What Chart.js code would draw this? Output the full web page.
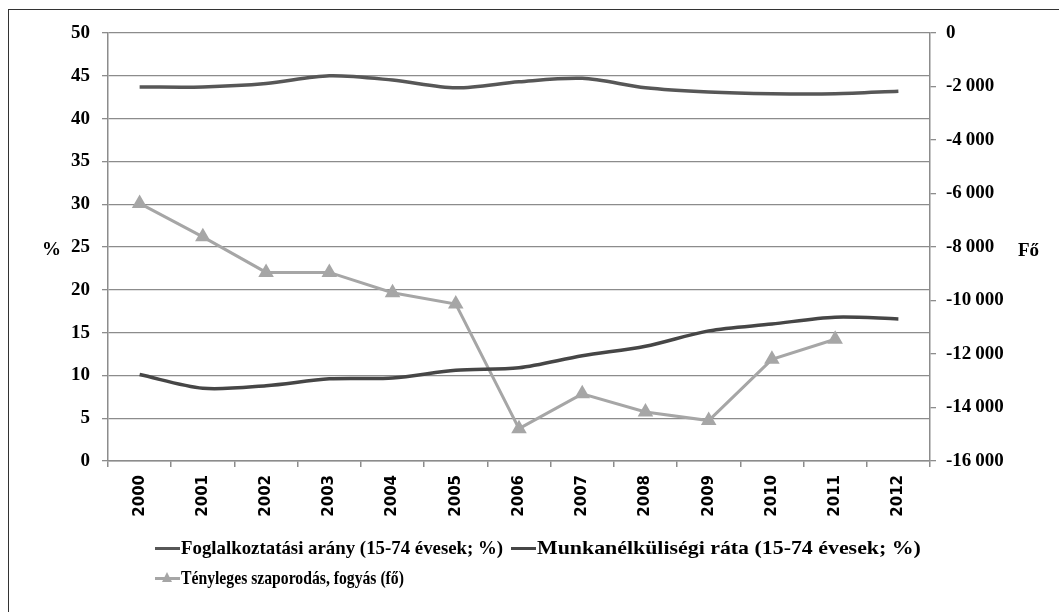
<!DOCTYPE html>
<html>
<head>
<meta charset="utf-8">
<script src="https://cdn.jsdelivr.net/npm/chart.js@4.4.1/dist/chart.umd.min.js"></script>
<style>
    html, body { margin: 0; padding: 0; background: #fff; }
    #wrap { position: relative; width: 1059px; height: 612px; overflow: hidden; }
    #frame { position: absolute; left: 8px; top: 9px; width: 1200px; height: 800px; border-left: 1.5px solid #333; border-top: 1.5px solid #333; }
    canvas { position: absolute; left: 0; top: 0; }
    .axis-title { position: absolute; font: bold 19px "Liberation Serif", "Times New Roman", serif; color: #000; }
    .legend-item { position: absolute; display: flex; align-items: center; font: bold 19px "Liberation Serif", "Times New Roman", serif; color: #000; white-space: nowrap; }
    .legend-item span { display: inline-block; transform-origin: left center; }
    .swatch { position: relative; width: 25px; height: 3px; margin-right: 1px; flex: none; }
    .swatch .tri { position: absolute; left: 7px; top: -5px; width: 0; height: 0; border-left: 5px solid transparent; border-right: 5px solid transparent; border-bottom: 10px solid #a6a6a6; }
</style>
</head>
<body>
<div id="wrap">
    <div id="frame"></div>
    <canvas id="chart" width="1059" height="612"></canvas>
    <span class="axis-title" style="left:42px; top:238px;">%</span>
    <span class="axis-title" style="left:1018px; top:239px;">Fő</span>
    <div id="legend"></div>
</div>
<script>
    // ─── ADATOK ──────────────────────────────────────────────────────────────
    const years = ['2000','2001','2002','2003','2004','2005','2006','2007','2008','2009','2010','2011','2012'];
    const employment   = [43.7, 43.7, 44.1, 45.0, 44.5, 43.6, 44.3, 44.7, 43.6, 43.1, 42.9, 42.9, 43.2];
    const unemployment = [10.1, 8.5, 8.8, 9.6, 9.7, 10.6, 10.9, 12.3, 13.4, 15.2, 16.0, 16.8, 16.6];
    const population   = [-6370, -7620, -8950, -8950, -9710, -10130, -14790, -13490, -14170, -14490, -12200, -11450, null];
    const seriesNames  = ['Foglalkoztatási arány (15-74 évesek; %)', 'Munkanélküliségi ráta (15-74 évesek; %)', 'Tényleges szaporodás, fogyás (fő)'];
    const leftTicks  = [0, 5, 10, 15, 20, 25, 30, 35, 40, 45, 50];
    const rightTicks = [-16000, -14000, -12000, -10000, -8000, -6000, -4000, -2000, 0];

    const colors = { emp: '#575757', unemp: '#464646', pop: '#a6a6a6', grid: '#8c8c8c' };
    const tickFont = { family: '"Liberation Serif", "Times New Roman", serif', size: 19, weight: 'bold' };

    function fmtFo(v) {
        if (v === 0) return '0';
        const s = String(Math.abs(v));
        return '-' + s.slice(0, s.length - 3) + '\u2009' + s.slice(-3);
    }

    const ctx = document.getElementById('chart').getContext('2d');
    new Chart(ctx, {
        type: 'line',
        data: {
            labels: years,
            datasets: [
                { label: seriesNames[0], data: employment, yAxisID: 'y', borderColor: colors.emp, borderWidth: 3.5, pointRadius: 0, tension: 0.3 },
                { label: seriesNames[1], data: unemployment, yAxisID: 'y', borderColor: colors.unemp, borderWidth: 3.5, pointRadius: 0, tension: 0.3 },
                { label: seriesNames[2], data: population, yAxisID: 'y1', borderColor: colors.pop, backgroundColor: colors.pop, borderWidth: 3,
                  pointStyle: 'triangle', pointRadius: 6, pointBackgroundColor: colors.pop, pointBorderColor: colors.pop, tension: 0, spanGaps: false }
            ]
        },
        options: {
            responsive: false,
            devicePixelRatio: 1,
            animation: false,
            layout: { padding: { left: 0, right: 0, top: 33, bottom: 0 } },
            plugins: { legend: { display: false }, tooltip: { enabled: false } },
            scales: {
                x: {
                    offset: true,
                    afterFit: s => { s.height = 151; },
                    border: { color: colors.grid, width: 1.5 },
                    grid: { offset: true, drawOnChartArea: false, drawTicks: true, tickLength: 6, color: colors.grid, lineWidth: 1.5 },
                    ticks: { color: '#000', minRotation: 90, maxRotation: 90, padding: 8, autoSkip: false,
                             font: { family: '"DejaVu Sans", Verdana, sans-serif', size: 15, weight: 'bold' } }
                },
                y: {
                    position: 'left',
                    min: 0, max: 50,
                    afterFit: s => { s.width = 108; },
                    afterBuildTicks: s => { s.ticks = leftTicks.map(v => ({ value: v })); },
                    border: { color: colors.grid, width: 1.5 },
                    grid: { color: colors.grid, lineWidth: 1.3, tickLength: 6 },
                    ticks: { color: '#000', padding: 12, font: tickFont }
                },
                y1: {
                    position: 'right',
                    min: -16000, max: 0,
                    afterFit: s => { s.width = 129; },
                    afterBuildTicks: s => { s.ticks = rightTicks.map(v => ({ value: v })); },
                    border: { color: colors.grid, width: 1.5 },
                    grid: { drawOnChartArea: false, color: colors.grid, lineWidth: 1.3, tickLength: 6 },
                    ticks: { color: '#000', padding: 10, font: tickFont, callback: v => fmtFo(v) }
                }
            }
        }
    });

    // ─── JELMAGYARÁZAT ───────────────────────────────────────────────────────
    const legendPos = [ { left: 155, top: 537, w: 322 }, { left: 511, top: 537, w: 384 }, { left: 155, top: 567, w: 223 } ];
    const legendCol = [colors.emp, colors.unemp, colors.pop];
    document.getElementById('legend').innerHTML = seriesNames.map((name, i) => `
        <div class="legend-item" style="left:${legendPos[i].left}px; top:${legendPos[i].top}px;">
            <div class="swatch" style="background:${legendCol[i]};">${i === 2 ? '<div class="tri"></div>' : ''}</div>
            <span data-w="${legendPos[i].w}">${name}</span>
        </div>`).join('');
    // a felirat szélességét a mintához igazítjuk
    document.querySelectorAll('.legend-item span').forEach(sp => {
        const k = Number(sp.dataset.w) / sp.getBoundingClientRect().width;
        sp.style.transform = `scaleX(${k.toFixed(3)})`;
    });
</script>
</body>
</html>
